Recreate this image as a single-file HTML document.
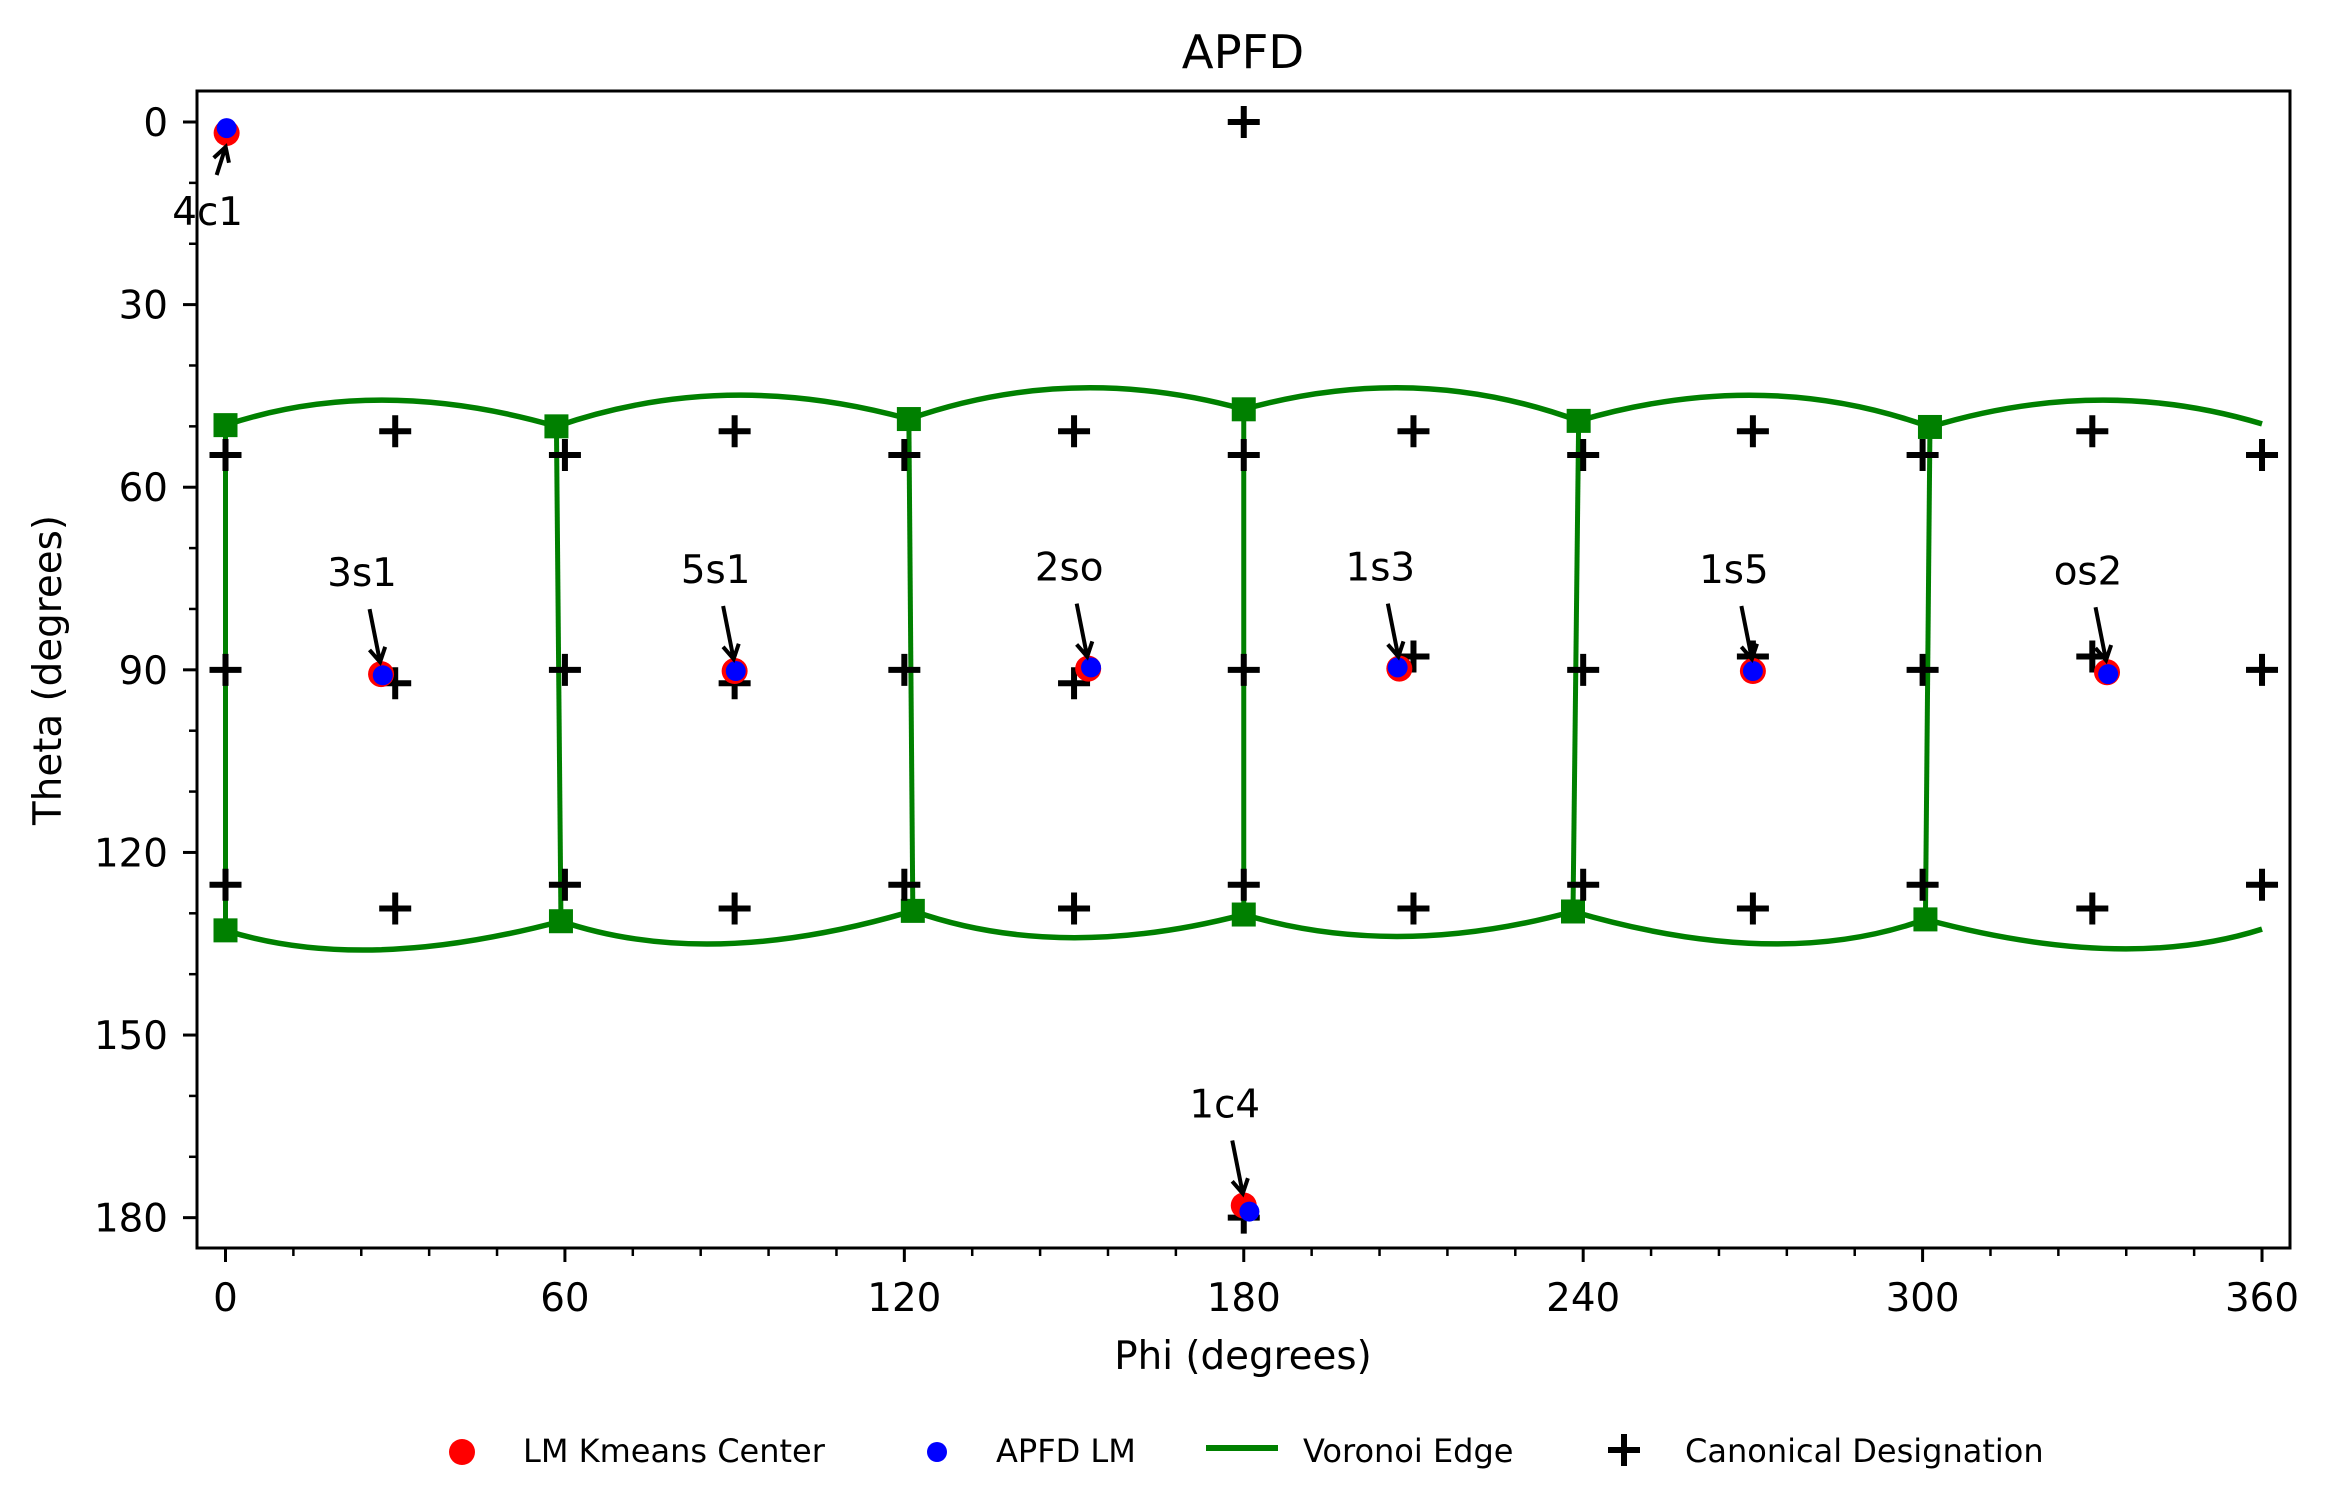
<!DOCTYPE html>
<html><head><meta charset="utf-8"><style>
html,body{margin:0;padding:0;background:#fff}
svg{display:block}
text{font-family:"DejaVu Sans","Liberation Sans",sans-serif;fill:#000}
</style></head><body>
<svg id="chart" width="2331" height="1510" viewBox="0 0 2331 1510" xmlns="http://www.w3.org/2000/svg">
<rect x="0" y="0" width="2331" height="1510" fill="#fff"/>
<g id="plot"></g>
<text x="1243" y="68" font-size="46.5" text-anchor="middle">APFD</text>
<text x="1243" y="1369" font-size="38.8" text-anchor="middle">Phi (degrees)</text>
<text x="0" y="0" font-size="38.8" text-anchor="middle" transform="translate(61,670) rotate(-90)">Theta (degrees)</text>
<g>
  <g>
    <circle cx="462" cy="1452" r="13" fill="#ff0000"/>
    <text x="523" y="1462" font-size="32">LM Kmeans Center</text>
  </g>
  <g>
    <circle cx="937" cy="1452" r="10" fill="#0000ff"/>
    <text x="996" y="1462" font-size="32">APFD LM</text>
  </g>
  <g>
    <line x1="1206" y1="1448" x2="1278" y2="1448" stroke="#008000" stroke-width="6"/>
    <text x="1303" y="1462" font-size="32">Voronoi Edge</text>
  </g>
  <g>
    <path d="M1608 1450 H1640 M1624 1434 V1466" stroke="#000" stroke-width="6"/>
    <text x="1685" y="1462" font-size="32">Canonical Designation</text>
  </g>
</g>
</svg>
<script>
const phiTicks = [0, 60, 120, 180, 240, 300, 360];
const thetaTicks = [0, 30, 60, 90, 120, 150, 180];
const labels = ['4c1', '3s1', '5s1', '2so', '1s3', '1s5', 'os2', '1c4'];
const kmeansPhi = [0.2, 27.5, 90, 152.5, 207.5, 270, 332.6, 180];
const kmeansTheta = [1.8, 90.7, 90.2, 89.8, 89.8, 90.2, 90.4, 178];
const apfdPhi = [0.2, 27.8, 90.2, 153, 207.2, 270, 332.8, 181];
const apfdTheta = [1.0, 90.9, 90.2, 89.6, 89.6, 90.2, 90.7, 179];
const canonPhi = [180, 180,
  30, 90, 150, 210, 270, 330,
  0, 60, 120, 180, 240, 300, 360,
  0, 60, 120, 180, 240, 300, 360,
  30, 90, 150, 210, 270, 330,
  0, 60, 120, 180, 240, 300, 360,
  30, 90, 150, 210, 270, 330];
const canonTheta = [0, 180,
  50.8, 50.8, 50.8, 50.8, 50.8, 50.8,
  54.7, 54.7, 54.7, 54.7, 54.7, 54.7, 54.7,
  90, 90, 90, 90, 90, 90, 90,
  92.2, 92.2, 92.2, 87.8, 87.8, 87.8,
  125.3, 125.3, 125.3, 125.3, 125.3, 125.3, 125.3,
  129.2, 129.2, 129.2, 129.2, 129.2, 129.2];
const topVertPhi = [0, 58.5, 120.8, 180, 239.2, 301.3, 360];
const topVertTheta = [49.8, 50.0, 48.8, 47.2, 49.1, 50.1, 49.6];
const topPeakPhi = [28, 89, 150, 210, 271, 331];
const topPeakTheta = [45.7, 44.9, 43.7, 43.7, 44.9, 45.7];
const botVertPhi = [0, 59.3, 121.5, 180, 238.2, 300.5, 360];
const botVertTheta = [132.8, 131.3, 129.6, 130.2, 129.7, 131.0, 132.6];
const botPeakPhi = [27, 88, 149, 208, 272, 333];
const botPeakTheta = [136.0, 135.0, 134.0, 133.8, 135.0, 135.8];

const NS = 'http://www.w3.org/2000/svg';
const X0 = 197, X1 = 2290, Y0 = 91, Y1 = 1248;
function xs(p){ return 225.5 + p * 5.657; }
function ys(t){ return 122 + t * 6.087; }
const plot = document.getElementById('plot');
function mk(tag, attrs, parent){
  const e = document.createElementNS(NS, tag);
  for (const k in attrs) e.setAttribute(k, attrs[k]);
  (parent || plot).appendChild(e);
  return e;
}

// Voronoi arcs
const vor = mk('g', {});


function arc(ap, at, pp, pt, bp, bt){
  const ax = xs(ap), ay = ys(at), bx = xs(bp), by = ys(bt), px = xs(pp), py = ys(pt);
  const cx = 2*px - (ax+bx)/2, cy = 2*py - (ay+by)/2;
  const e = mk('path', {d:`M${ax} ${ay} Q${cx} ${cy} ${bx} ${by}`, fill:'none', stroke:'#008000', 'stroke-width':5.5}, vor);
  
  
}
for (let i = 0; i < topPeakPhi.length; i++){
  arc(topVertPhi[i], topVertTheta[i], topPeakPhi[i], topPeakTheta[i], topVertPhi[i+1], topVertTheta[i+1]);
  arc(botVertPhi[i], botVertTheta[i], botPeakPhi[i], botPeakTheta[i], botVertPhi[i+1], botVertTheta[i+1]);
}
for (let i = 0; i < topVertPhi.length - 1; i++){
  const e = mk('line', {x1:xs(topVertPhi[i]), y1:ys(topVertTheta[i]), x2:xs(botVertPhi[i]), y2:ys(botVertTheta[i]), stroke:'#008000', 'stroke-width':5}, vor);
  
  
}
for (let i = 0; i < topVertPhi.length - 1; i++){
  const s1 = mk('rect', {x:xs(topVertPhi[i])-12, y:ys(topVertTheta[i])-12, width:24, height:24, fill:'#008000'}, vor);
  
  
  const s2 = mk('rect', {x:xs(botVertPhi[i])-12, y:ys(botVertTheta[i])-12, width:24, height:24, fill:'#008000'}, vor);
  
  
}

// Canonical plus markers
for (let i = 0; i < canonPhi.length; i++){
  const x = xs(canonPhi[i]), y = ys(canonTheta[i]);
  const e = mk('path', {d:`M${x-16} ${y} H${x+16} M${x} ${y-16} V${y+16}`, stroke:'#000', 'stroke-width':6});
  
  
}

// Kmeans and APFD points
for (let i = 0; i < kmeansPhi.length; i++){
  const e = mk('circle', {cx:xs(kmeansPhi[i]), cy:ys(kmeansTheta[i]), r:13, fill:'#ff0000'});
  
  
}
for (let i = 0; i < apfdPhi.length; i++){
  const e = mk('circle', {cx:xs(apfdPhi[i]), cy:ys(apfdTheta[i]), r:10, fill:'#0000ff'});
  
  
}

// Annotations
for (let i = 0; i < labels.length; i++){
  const px = xs(kmeansPhi[i]), py = ys(kmeansTheta[i]);
  const below = kmeansTheta[i] < 10;
  const tx = px - 19, ty = below ? py + 92 : py - 88;
  const t = mk('text', {x:tx, y:ty, 'font-size':38.8, 'text-anchor':'middle'});
  t.textContent = labels[i];
  
  
  const ax = px - (below ? 10 : 11.5), ay = below ? py + 42 : py - 65;
  const hx = px - 1, hy = below ? py + 14 : py - 12;
  const dx = hx - ax, dy = hy - ay, L = Math.hypot(dx, dy), ux = dx/L, uy = dy/L;
  const hl = 14, hw = 8;
  const bx = hx - ux*hl, by = hy - uy*hl;
  const a = mk('path', {d:`M${ax} ${ay} L${hx} ${hy} M${bx - uy*hw} ${by + ux*hw} L${hx} ${hy} L${bx + uy*hw} ${by - ux*hw}`, fill:'none', stroke:'#000', 'stroke-width':4});
  
  
}

// Axes frame
const fr = mk('rect', {x:X0, y:Y0, width:X1-X0, height:Y1-Y0, fill:'none', stroke:'#000', 'stroke-width':3});



// X ticks
for (let i = 0; i < phiTicks.length; i++){
  const x = xs(phiTicks[i]);
  const tk = mk('line', {x1:x, y1:Y1, x2:x, y2:Y1+14, stroke:'#000', 'stroke-width':3});
  
  
  const t = mk('text', {x:x, y:1311, 'font-size':38.8, 'text-anchor':'middle'});
  t.textContent = phiTicks[i];
  
  
  if (i < phiTicks.length - 1){
    for (let k = 1; k < 5; k++){
      const mx = xs(phiTicks[i] + (phiTicks[i+1]-phiTicks[i])*k/5);
      const m = mk('line', {x1:mx, y1:Y1, x2:mx, y2:Y1+8, stroke:'#000', 'stroke-width':2.5});
      
      
    }
  }
}
// Y ticks
for (let i = 0; i < thetaTicks.length; i++){
  const y = ys(thetaTicks[i]);
  const tk = mk('line', {x1:X0-14, y1:y, x2:X0, y2:y, stroke:'#000', 'stroke-width':3});
  
  
  const t = mk('text', {x:168, y:y+14, 'font-size':38.8, 'text-anchor':'end'});
  t.textContent = thetaTicks[i];
  
  
  if (i < thetaTicks.length - 1){
    for (let k = 1; k < 3; k++){
      const my = ys(thetaTicks[i] + (thetaTicks[i+1]-thetaTicks[i])*k/3);
      const m = mk('line', {x1:X0-8, y1:my, x2:X0, y2:my, stroke:'#000', 'stroke-width':2.5});
      
      
    }
  }
}
</script>
</body></html>
